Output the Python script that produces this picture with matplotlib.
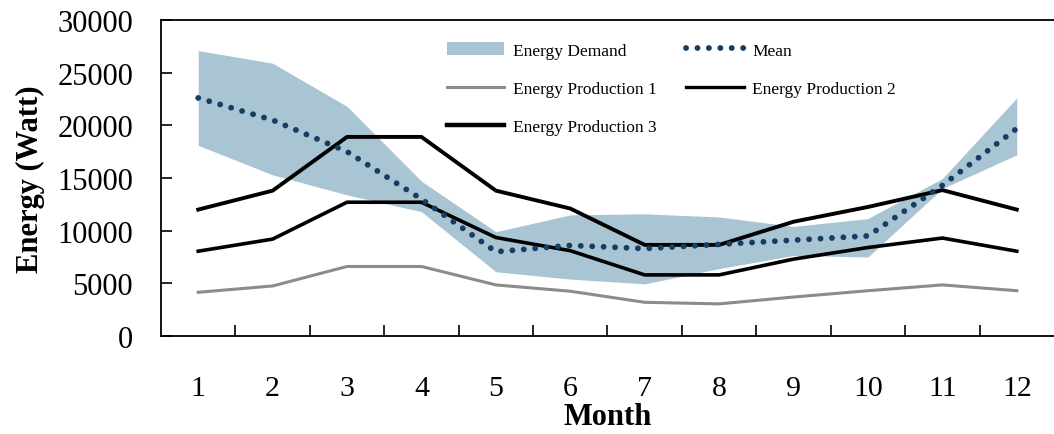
import matplotlib
matplotlib.use("Agg")
import matplotlib.pyplot as plt
from matplotlib.patches import Patch
from matplotlib.lines import Line2D
import numpy as np

months = [1, 2, 3, 4, 5, 6, 7, 8, 9, 10, 11, 12]
demand_upper = [27100, 25900, 21800, 14700, 9900, 11500, 11600, 11300, 10400, 11150, 14950, 22600]
demand_lower = [18100, 15300, 13400, 11800, 6100, 5400, 4950, 6400, 7650, 7500, 14000, 17200]
demand_mean = [22600, 20500, 17500, 13000, 8000, 8600, 8300, 8700, 9100, 9500, 14300, 19700]
production_1 = [4150, 4750, 6600, 6600, 4850, 4250, 3200, 3050, 3700, 4300, 4850, 4300]
production_2 = [8050, 9200, 12700, 12700, 9350, 8100, 5800, 5800, 7300, 8400, 9300, 8050]
production_3 = [12000, 13800, 18900, 18900, 13800, 12100, 8650, 8650, 10850, 12250, 13850, 12000]

band_color = "#a9c5d4"
mean_color = "#173d63"
p1_color = "#8c8c86"

plt.rcParams["font.family"] = "Liberation Serif"

fig = plt.figure(figsize=(10.54, 4.35), dpi=100)
ax = fig.add_axes([161 / 1054, 98 / 435, 893 / 1054, 316 / 435])

ax.fill_between(months, demand_lower, demand_upper, color=band_color, linewidth=0)
ax.plot(months, production_1, color=p1_color, lw=2.2)
ax.plot(months, production_2, color="black", lw=2.6)
ax.plot(months, production_3, color="black", lw=2.8)
ax.plot(months, demand_mean, color=mean_color, lw=4.2, linestyle=(0, (0.01, 1.95)),
        dash_capstyle="round")

ax.set_xlim(0.5, 12.5)
ax.set_ylim(0, 30000)
ax.set_yticks(range(0, 30001, 5000))
ax.set_xticks(months)
ax.set_xticks(np.arange(1.5, 12.0, 1.0), minor=True)
ax.tick_params(axis="x", which="major", length=0, pad=28, labelsize=21.5)
ax.tick_params(axis="x", which="minor", direction="in", length=8, width=1.2)
ax.tick_params(axis="y", direction="in", length=8, width=1.2, pad=20, labelsize=22)
ax.spines["right"].set_visible(False)
for s in ["left", "top", "bottom"]:
    ax.spines[s].set_linewidth(1.3)

ax.set_xlabel("Month", fontsize=22, fontweight="bold", labelpad=1)
ax.set_ylabel("Energy (Watt)", fontsize=22, fontweight="bold", labelpad=9)

handles = [
    Patch(facecolor=band_color, edgecolor="none"),
    Line2D([], [], color=mean_color, lw=4.2, linestyle=(0, (0.01, 1.95)), dash_capstyle="round"),
    Line2D([], [], color=p1_color, lw=2.2),
    Line2D([], [], color="black", lw=2.4),
    Line2D([], [], color="black", lw=3.2),
]
labels = ["Energy Demand", "Mean", "Energy Production 1", "Energy Production 2", "Energy Production 3"]
order = [0, 2, 4, 1, 3]
leg = fig.legend([handles[i] for i in order], [labels[i] for i in order],
                 loc="upper left", bbox_to_anchor=(447 / 1054, 1 - 43 / 435),
                 ncol=2, frameon=False, fontsize=12.5, handlelength=3.3,
                 handleheight=0.8, handletextpad=0.5, columnspacing=1.7,
                 labelspacing=1.25, borderpad=0, borderaxespad=0)

fig.savefig("out.png", dpi=100)
